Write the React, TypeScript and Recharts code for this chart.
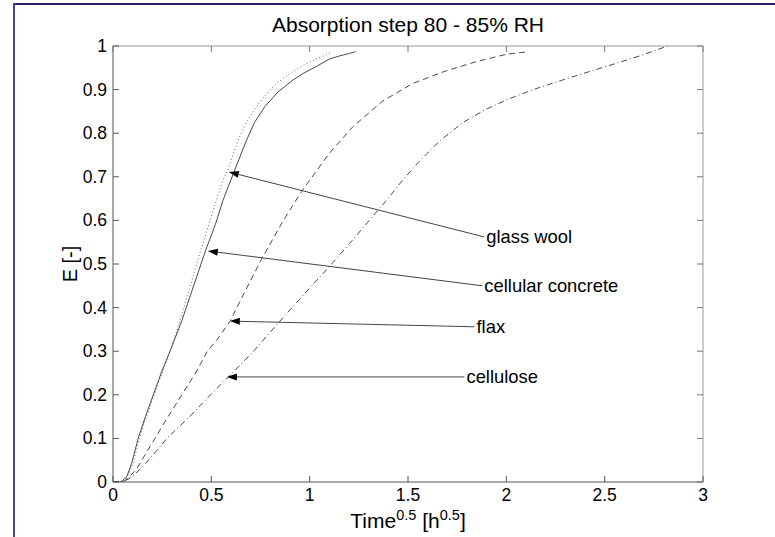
import React from 'react';
import { LineChart, Line, XAxis, YAxis, ReferenceLine } from 'recharts';

// ---- data ----
const X_TICKS = [0, 0.5, 1, 1.5, 2, 2.5, 3];
const Y_TICKS = [0, 0.1, 0.2, 0.3, 0.4, 0.5, 0.6, 0.7, 0.8, 0.9, 1];

const GLASS_WOOL_X = [0, 0.04, 0.07, 0.1, 0.135, 0.17, 0.21, 0.25, 0.31, 0.38, 0.445, 0.526, 0.56, 0.58, 0.636, 0.68, 0.729, 0.78, 0.831, 0.9, 0.965, 1.03, 1.1, 1.113];
const GLASS_WOOL_E = [0, 0, 0.01, 0.04, 0.1, 0.15, 0.2, 0.25, 0.326, 0.43, 0.53, 0.647, 0.693, 0.712, 0.784, 0.826, 0.861, 0.89, 0.914, 0.937, 0.955, 0.97, 0.983, 0.985];

const CONCRETE_X = [0, 0.04, 0.07, 0.095, 0.128, 0.165, 0.205, 0.245, 0.29, 0.35, 0.41, 0.47, 0.52, 0.56, 0.615, 0.679, 0.72, 0.772, 0.84, 0.915, 0.97, 1.034, 1.1, 1.15, 1.203, 1.233];
const CONCRETE_E = [0, 0, 0.012, 0.043, 0.1, 0.15, 0.2, 0.25, 0.3, 0.37, 0.45, 0.53, 0.59, 0.647, 0.711, 0.784, 0.825, 0.861, 0.895, 0.922, 0.938, 0.953, 0.97, 0.977, 0.983, 0.987];

const FLAX_X = [0, 0.05, 0.08, 0.12, 0.16, 0.213, 0.28, 0.35, 0.42, 0.48, 0.535, 0.594, 0.68, 0.76, 0.86, 0.958, 1.1, 1.22, 1.372, 1.524, 1.694, 1.846, 2.0, 2.113];
const FLAX_E = [0, 0, 0.01, 0.03, 0.06, 0.1, 0.15, 0.2, 0.25, 0.3, 0.33, 0.368, 0.445, 0.515, 0.595, 0.666, 0.754, 0.815, 0.874, 0.914, 0.943, 0.964, 0.981, 0.987];

const CELLULOSE_X = [0, 0.05, 0.09, 0.14, 0.2, 0.274, 0.39, 0.496, 0.585, 0.715, 0.839, 0.97, 1.1, 1.203, 1.305, 1.389, 1.465, 1.55, 1.66, 1.778, 1.897, 2.015, 2.15, 2.286, 2.42, 2.557, 2.69, 2.82];
const CELLULOSE_E = [0, 0, 0.01, 0.03, 0.06, 0.1, 0.15, 0.2, 0.24, 0.3, 0.364, 0.43, 0.494, 0.547, 0.601, 0.645, 0.688, 0.732, 0.782, 0.824, 0.855, 0.879, 0.902, 0.922, 0.941, 0.96, 0.979, 1.0];

const ANNOT_LABELS = ['glass wool', 'cellular concrete', 'flax', 'cellulose'];
const ANNOT_TIP_X = [0.589, 0.482, 0.594, 0.579];
const ANNOT_TIP_E = [0.711, 0.53, 0.369, 0.241];
const ANNOT_TAIL_X = [1.888, 1.878, 1.838, 1.787];
const ANNOT_TAIL_E = [0.562, 0.45, 0.356, 0.241];

const TITLE = 'Absorption step 80 - 85% RH';

const toRows = (xs: number[], es: number[]) => xs.map((x, i) => ({ x, e: es[i] }));

const FONT = '"Liberation Sans", Arial, Helvetica, sans-serif';
const TEXT_COLOR = '#000';
const CURVE = '#4a4a4a';
const PLOT_W = 590;
const PLOT_H = 436;

const BottomTick = (props: any) => {
  const { x, y, payload } = props;
  return (
    <g>
      <line x1={x} y1={y} x2={x} y2={y - 6} stroke="#555" strokeWidth={1} />
      <line x1={x} y1={y - PLOT_H} x2={x} y2={y - PLOT_H + 6} stroke="#777" strokeWidth={1} />
      <text x={x} y={y + 19} textAnchor="middle" fontSize={17.5} fontFamily={FONT} fill={TEXT_COLOR}>
        {String(payload.value)}
      </text>
    </g>
  );
};

const LeftTick = (props: any) => {
  const { x, y, payload } = props;
  return (
    <g>
      <line x1={x} y1={y} x2={x + 6} y2={y} stroke="#555" strokeWidth={1} />
      <line x1={x + PLOT_W} y1={y} x2={x + PLOT_W - 6} y2={y} stroke="#777" strokeWidth={1} />
      <text x={x - 6} y={y + 6} textAnchor="end" fontSize={17.5} fontFamily={FONT} fill={TEXT_COLOR}>
        {String(payload.value)}
      </text>
    </g>
  );
};

const makeArrowShape = (label: string) => (p: any) => {
  const { x1, y1, x2, y2 } = p;
  // x1,y1 = tip ; x2,y2 = tail
  const ang = Math.atan2(y1 - y2, x1 - x2);
  const L = 10;
  const W = 3.5;
  const bx = x1 - L * Math.cos(ang);
  const by = y1 - L * Math.sin(ang);
  const px = -Math.sin(ang) * W;
  const py = Math.cos(ang) * W;
  return (
    <g>
      <line x1={bx} y1={by} x2={x2} y2={y2} stroke="#444" strokeWidth={1} />
      <polygon points={`${x1},${y1} ${bx + px},${by + py} ${bx - px},${by - py}`} fill="#000" />
      <text x={x2 + 2} y={y2 + 6} fontSize={18.4} fontFamily={FONT} fill={TEXT_COLOR}>
        {label}
      </text>
    </g>
  );
};

export default function App() {
  const gw = toRows(GLASS_WOOL_X, GLASS_WOOL_E);
  const cc = toRows(CONCRETE_X, CONCRETE_E);
  const fl = toRows(FLAX_X, FLAX_E);
  const ce = toRows(CELLULOSE_X, CELLULOSE_E);

  return (
    <div style={{ position: 'fixed', left: 0, top: 0, width: 775, height: 537, background: '#fff', overflow: 'hidden' }}>
      <div style={{ position: 'absolute', left: 0, top: 0 }}>
        <LineChart width={775} height={537} margin={{ top: 46, right: 72, bottom: 25, left: 53 }}>
          <XAxis
            xAxisId="b"
            type="number"
            dataKey="x"
            domain={[0, 3]}
            ticks={X_TICKS}
            allowDataOverflow
            orientation="bottom"
            height={30}
            tickSize={0}
            tickMargin={0}
            axisLine={{ stroke: '#555', strokeWidth: 1 }}
            tickLine={false}
            tick={<BottomTick />}
            interval={0}
          />
          <YAxis
            yAxisId="l"
            type="number"
            dataKey="e"
            domain={[0, 1]}
            ticks={Y_TICKS}
            allowDataOverflow
            orientation="left"
            width={60}
            tickSize={0}
            tickMargin={0}
            axisLine={{ stroke: '#555', strokeWidth: 1 }}
            tickLine={false}
            tick={<LeftTick />}
            interval={0}
          />
          <ReferenceLine xAxisId="b" yAxisId="l" y={1} stroke="#9a9a9a" strokeWidth={1} ifOverflow="visible" />
          <ReferenceLine xAxisId="b" yAxisId="l" x={3} stroke="#9a9a9a" strokeWidth={1} ifOverflow="visible" />
          <Line xAxisId="b" yAxisId="l" data={gw} dataKey="e" type="linear" stroke="#666" strokeWidth={1} strokeDasharray="1 2.5" dot={false} isAnimationActive={false} />
          <Line xAxisId="b" yAxisId="l" data={cc} dataKey="e" type="linear" stroke={CURVE} strokeWidth={1} dot={false} isAnimationActive={false} />
          <Line xAxisId="b" yAxisId="l" data={fl} dataKey="e" type="linear" stroke={CURVE} strokeWidth={1} strokeDasharray="6 4" dot={false} isAnimationActive={false} />
          <Line xAxisId="b" yAxisId="l" data={ce} dataKey="e" type="linear" stroke={CURVE} strokeWidth={1} strokeDasharray="6 3 1 3" dot={false} isAnimationActive={false} />
          {ANNOT_LABELS.map((lab, i) => (
            <ReferenceLine
              key={lab}
              xAxisId="b"
              yAxisId="l"
              segment={[
                { x: ANNOT_TIP_X[i], y: ANNOT_TIP_E[i] },
                { x: ANNOT_TAIL_X[i], y: ANNOT_TAIL_E[i] },
              ]}
              ifOverflow="visible"
              shape={makeArrowShape(lab)}
            />
          ))}
        </LineChart>
      </div>
      <svg width={775} height={537} style={{ position: 'absolute', left: 0, top: 0, pointerEvents: 'none' }}>
        <rect x={13} y={3} width={762} height={2} fill="#23215f" />
        <rect x={13} y={3} width={2} height={534} fill="#4b4794" />
        <text x={408} y={32} textAnchor="middle" fontSize={21} fontFamily={FONT} fill={TEXT_COLOR}>
          {TITLE}
        </text>
        <text x={408} y={528} textAnchor="middle" fontSize={21} fontFamily={FONT} fill={TEXT_COLOR}>
          Time<tspan dy={-8} fontSize={14.5}>0.5</tspan>
          <tspan dy={8}> [h</tspan>
          <tspan dy={-8} fontSize={14.5}>0.5</tspan>
          <tspan dy={8}>]</tspan>
        </text>
        <text x={77} y={264} textAnchor="middle" fontSize={20} fontFamily={FONT} fill={TEXT_COLOR} transform="rotate(-90 77 264)">
          E [-]
        </text>
      </svg>
    </div>
  );
}
